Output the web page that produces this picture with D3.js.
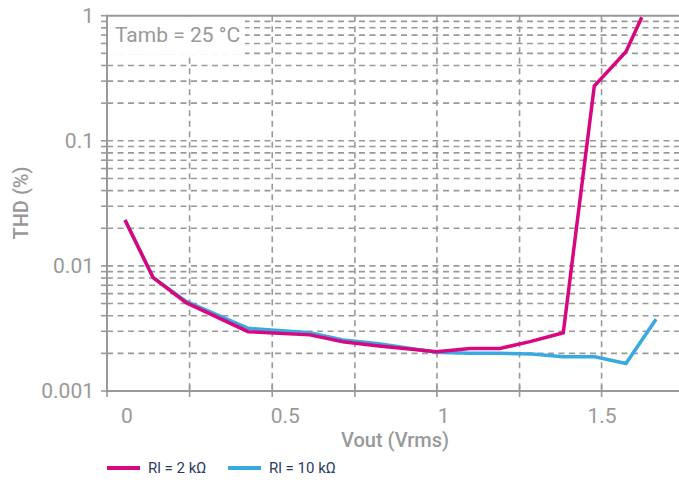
<!DOCTYPE html>
<html>
<head>
<meta charset="utf-8">
<script src="https://cdn.jsdelivr.net/npm/d3@7"></script>
<style>
  html, body { margin: 0; padding: 0; background: #fff; }
  svg { display: block; }
  text { font-family: Roboto, "Liberation Sans", Arial, sans-serif; }
</style>
</head>
<body>
<svg id="chart" width="679" height="484"></svg>
<script>
// ---- data ----
const vout2k  = [0, 0.089, 0.193, 0.389, 0.584, 0.688, 0.795, 0.984, 1.089, 1.184, 1.279, 1.384, 1.482, 1.582, 1.632];
const thd2k   = [0.0233, 0.00805, 0.00508, 0.00298, 0.00281, 0.00248, 0.0023, 0.00206, 0.00219, 0.00219, 0.00248, 0.00292, 0.274, 0.515, 0.97];
const vout10k = [0, 0.089, 0.193, 0.389, 0.584, 0.688, 0.795, 0.984, 1.089, 1.184, 1.284, 1.384, 1.484, 1.582, 1.677];
const thd10k  = [0.0233, 0.00805, 0.0052, 0.00317, 0.00292, 0.00256, 0.0024, 0.00204, 0.002, 0.002, 0.00198, 0.00188, 0.00188, 0.00166, 0.00374];
const xTickValues = [0, 0.5, 1, 1.5];
const xTickLabels = ["0", "0.5", "1", "1.5"];
const xGridValues = [0.204, 0.465, 0.726, 0.985, 1.246, 1.505];
const yTickValues = [0.001, 0.01, 0.1, 1];
const yTickLabels = ["0.001", "0.01", "0.1", "1"];
const seriesNames = ["Rl = 2 kΩ", "Rl = 10 kΩ"];
const seriesColors = ["#d9077f", "#3aa9e0"];
const xTitle = "Vout (Vrms)";
const yTitle = "THD (%)";
const noteText = "Tamb = 25 °C";

// ---- layout ----
const svg = d3.select("#chart");
const axisLeftX = 107, axisBottomY = 391, topY = 15.7, rightX = 679;
const x = d3.scaleLinear().domain([0, 1.5]).range([125, 600]);
const y = d3.scaleLog().domain([0.001, 1]).range([axisBottomY, topY]);
const gray = "#999999";

// minor values 1..9 per decade
const yMinor = [];
[0.001, 0.01, 0.1].forEach(d => { for (let k = 1; k <= 9; k++) yMinor.push(+(d * k).toPrecision(3)); });
yMinor.push(1);

// horizontal dashed gridlines
svg.append("g").selectAll("line").data(yMinor.filter(v => v > 0.001 && v < 1)).join("line")
  .attr("x1", axisLeftX).attr("x2", rightX)
  .attr("y1", d => y(d)).attr("y2", d => y(d))
  .attr("stroke", gray).attr("stroke-width", 1.6).attr("stroke-dasharray", "6,4.5");

// vertical dashed gridlines
svg.append("g").selectAll("line").data(xGridValues).join("line")
  .attr("x1", d => x(d)).attr("x2", d => x(d))
  .attr("y1", topY).attr("y2", axisBottomY)
  .attr("stroke", gray).attr("stroke-width", 1.6).attr("stroke-dasharray", "6,4.5");

// note box
svg.append("rect").attr("x", axisLeftX + 1).attr("y", topY + 1)
  .attr("width", 137).attr("height", 38).attr("fill", "#fff");
svg.append("text").attr("x", 115).attr("y", 42).text(noteText)
  .attr("fill", gray).attr("font-size", 21);

// axes frame
svg.append("line").attr("x1", axisLeftX).attr("x2", rightX).attr("y1", topY).attr("y2", topY)
  .attr("stroke", gray).attr("stroke-width", 2);
svg.append("line").attr("x1", axisLeftX).attr("x2", rightX).attr("y1", axisBottomY).attr("y2", axisBottomY)
  .attr("stroke", gray).attr("stroke-width", 2);
svg.append("line").attr("x1", axisLeftX).attr("x2", axisLeftX).attr("y1", topY - 1).attr("y2", axisBottomY + 1)
  .attr("stroke", gray).attr("stroke-width", 2);

// y minor ticks
svg.append("g").selectAll("line").data(yMinor).join("line")
  .attr("x1", axisLeftX - 6).attr("x2", axisLeftX)
  .attr("y1", d => y(d)).attr("y2", d => y(d))
  .attr("stroke", gray).attr("stroke-width", 1.6);

// x ticks at gridlines and origin
svg.append("g").selectAll("line").data([x.invert(axisLeftX)].concat(xGridValues)).join("line")
  .attr("x1", d => x(d)).attr("x2", d => x(d))
  .attr("y1", axisBottomY - 6).attr("y2", axisBottomY + 6)
  .attr("stroke", gray).attr("stroke-width", 1.6);

// y tick labels
svg.append("g").selectAll("text").data(yTickValues).join("text")
  .attr("x", 94).attr("y", d => y(d)).attr("dy", "0.35em")
  .attr("text-anchor", "end").attr("fill", gray).attr("font-size", 21)
  .text((d, i) => yTickLabels[i]);

// x tick labels
svg.append("g").selectAll("text").data(xTickValues).join("text")
  .attr("x", d => x(d) + 2).attr("y", 423)
  .attr("text-anchor", "middle").attr("fill", gray).attr("font-size", 21)
  .text((d, i) => xTickLabels[i]);

// axis titles
svg.append("text").attr("x", 395).attr("y", 447).attr("text-anchor", "middle")
  .attr("fill", gray).attr("font-size", 20).attr("font-weight", 500).text(xTitle);
svg.append("text").attr("transform", "translate(28,203) rotate(-90)").attr("text-anchor", "middle")
  .attr("fill", gray).attr("font-size", 20).attr("font-weight", 500).text(yTitle);

// lines
const line = d3.line().x(d => x(d[0])).y(d => y(d[1]));
const series = [
  { xs: vout10k, ys: thd10k, color: seriesColors[1] },
  { xs: vout2k, ys: thd2k, color: seriesColors[0] }
];
series.forEach(s => {
  svg.append("path").datum(s.xs.map((v, i) => [v, s.ys[i]]))
    .attr("d", line).attr("fill", "none").attr("stroke", s.color)
    .attr("stroke-width", 3.5).attr("stroke-linejoin", "miter");
});

// legend
const legendX = [107, 228];
const lg = svg.append("g").selectAll("g").data(seriesNames).join("g")
  .attr("transform", (d, i) => `translate(${legendX[i]},468)`);
lg.append("line").attr("x1", 0).attr("x2", 33).attr("y1", 0).attr("y2", 0)
  .attr("stroke", (d, i) => seriesColors[i]).attr("stroke-width", 4);
lg.append("text").attr("x", 41).attr("y", 0).attr("dy", "0.35em")
  .attr("fill", "#2c3a66").attr("font-size", 15).text(d => d);
</script>
</body>
</html>
